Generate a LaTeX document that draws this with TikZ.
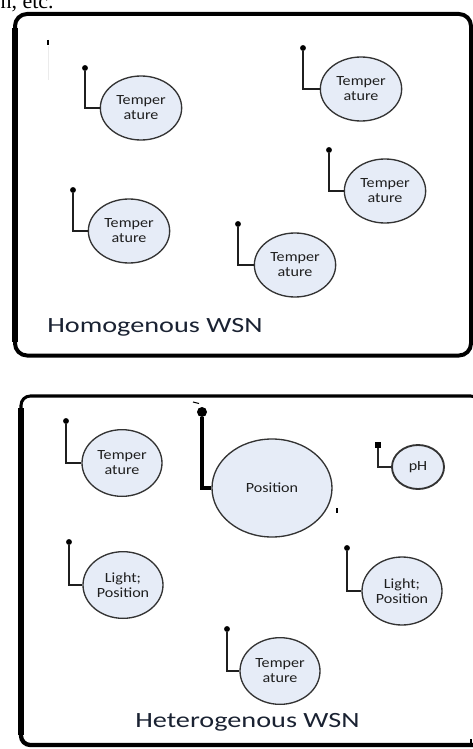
\documentclass[tikz,border=0pt]{standalone}
\usepackage{fontspec}
\setmainfont{Carlito}
\newfontfamily\nodefont[FakeStretch=1.15]{Carlito}
\newfontfamily\labelfont[FakeStretch=1.3]{Carlito}
\newfontfamily\serifclip{Liberation Serif}
\usetikzlibrary{shapes.geometric}
\definecolor{efill}{HTML}{E6ECF7}
\definecolor{edraw}{HTML}{333333}
\definecolor{labcol}{HTML}{1A2232}
\begin{document}
\begin{tikzpicture}[x=0.75pt,y=-0.75pt,
  sensor/.style={ellipse, draw=edraw, line width=1pt, fill=efill, inner sep=0pt, align=center, text=black!88,
    font=\nodefont\fontsize{10.5pt}{11.25pt}\selectfont},
  tsens/.style={sensor, minimum width=61pt, minimum height=48pt},
  pin/.style={circle, fill=black, inner sep=0pt, minimum size=4.4pt},
  wire/.style={draw=black!88, line width=1.25pt},
  netlabel/.style={anchor=base west, text=labcol, inner sep=0pt,
    font=\labelfont\fontsize{16.3pt}{18pt}\selectfont}
]
\useasboundingbox (0,0) rectangle (473,749);

% clipped text at top
\node[anchor=base east, inner sep=0pt, font=\serifclip\fontsize{16.5pt}{18pt}\selectfont] (prev) at (54,8.5) {n, etc.};

% ---------- Homogenous frame ----------
\draw[line width=3pt, rounded corners=9pt] (15,14) rectangle (471,355.5);
\draw[line width=4.5pt] (15,28) -- (15,342);
\draw[line width=0.8pt] (48,40) -- (48,45);
\draw[line width=0.6pt, black!8] (48,46) -- (48,80);

\node[tsens] (h1) at (141,108) {Temper\\ature};
\node[pin] (hd1) at (85,68) {};
\draw[wire] (hd1) |- (h1.west);

\node[tsens] (h2) at (361,89) {Temper\\ature};
\node[pin] (hd2) at (303,48) {};
\draw[wire] (hd2) |- (h2.west);

\node[tsens] (h3) at (385,191) {Temper\\ature};
\node[pin] (hd3) at (329,150) {};
\draw[wire] (hd3) |- (h3.west);

\node[tsens] (h4) at (129,231) {Temper\\ature};
\node[pin] (hd4) at (73,190) {};
\draw[wire] (hd4) |- (h4.west);

\node[tsens] (h5) at (295,265) {Temper\\ature};
\node[pin] (hd5) at (238,224) {};
\draw[wire] (hd5) |- (h5.west);

\node[netlabel] (homo) at (47,332) {Homogenous WSN};

% ---------- Heterogenous frame ----------
\draw[line width=2.3pt, rounded corners=7pt] (21,396) rectangle (480,745);
\draw[line width=4pt] (21,408) -- (21,735);
\draw[line width=3.2pt, rounded corners=7pt] (21,730) -- (21,745) -- (40,745) -- (480,745);
\draw[line width=0.8pt] (471,739) -- (471,747);

\node[tsens, minimum width=60pt, minimum height=50pt] (t1) at (122,463) {Temper\\ature};
\node[pin] (td1) at (66,421) {};
\draw[wire] (td1) |- (t1.west);

\node[sensor, minimum width=90pt, minimum height=73.5pt] (pos) at (272,488) {Position};
\node[pin, minimum size=7.5pt] (posd) at (202,412) {};
\draw[draw=black, line width=3.4pt] (posd) |- (pos.west);
\draw[line width=0.8pt] (337,508) -- (337,513);
\draw[line width=0.8pt] (193,402) -- (199,403.5);

\node[sensor, line width=1.4pt, minimum width=39pt, minimum height=33pt] (ph) at (418,467) {pH};
\node[rectangle, fill=black, inner sep=0pt, minimum size=3.8pt] (phd) at (378,445) {};
\draw[draw=black!85, line width=2pt] (phd) |- (ph.west);

\node[tsens, minimum width=60pt, minimum height=50pt] (l1) at (123,585) {Light;\\Position};
\node[pin] (ld1) at (69,542) {};
\draw[wire] (ld1) |- (l1.west);

\node[tsens, minimum width=60pt, minimum height=51pt] (l2) at (402,591) {Light;\\Position};
\node[pin] (ld2) at (347,548) {};
\draw[wire] (ld2) |- (l2.west);

\node[tsens, minimum width=60pt, minimum height=50pt] (t2) at (280,671) {Temper\\ature};
\node[pin] (td2) at (227,629) {};
\draw[wire] (td2) |- (t2.west);

\node[netlabel] (hetero) at (135,727) {Heterogenous WSN};
\end{tikzpicture}
\end{document}
